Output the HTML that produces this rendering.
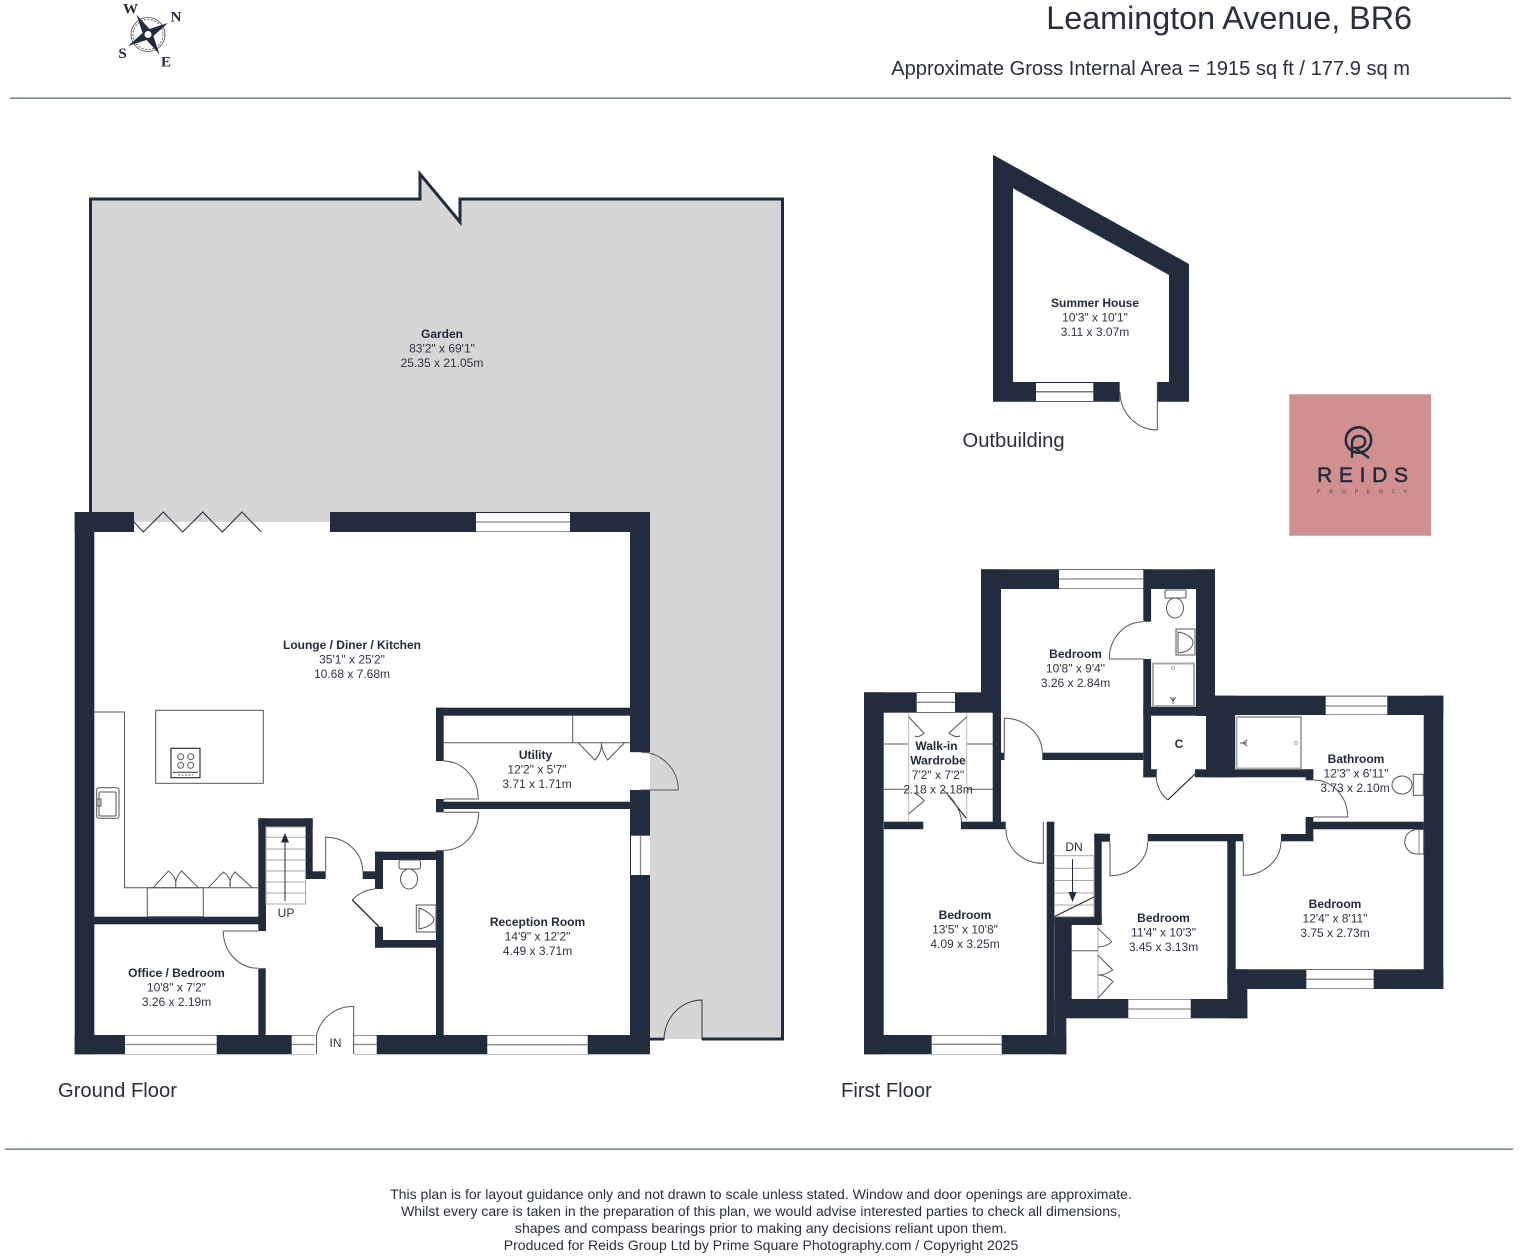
<!DOCTYPE html>
<html><head><meta charset="utf-8"><style>
html,body{margin:0;padding:0;background:#fff}
svg{display:block}
text{font-family:"Liberation Sans",Arial,sans-serif;fill:#2a2f3a}
.n{font-size:12px;font-weight:700;text-anchor:middle;fill:#232b3a}
.d{font-size:12px;text-anchor:middle;fill:#2f3440}
.w{fill:#232c3c}
.t{fill:none;stroke:#555;stroke-width:1}
.k{fill:none;stroke:#232c3c;stroke-width:1}
.g{fill:none;stroke:#aaa;stroke-width:1}
.win{fill:#fff}
.wl{stroke:#888;stroke-width:1.3}
.c{font-family:"Liberation Serif",serif;font-weight:700;font-size:15px;text-anchor:middle;fill:#232c3c}
</style></head><body>
<svg width="1520" height="1256" viewBox="0 0 1520 1256" xmlns="http://www.w3.org/2000/svg">
<rect width="1520" height="1256" fill="#fff"/>
<!-- header -->
<g transform="translate(148,34.500)">
<circle r="17" fill="none" stroke="#444" stroke-width="0.8"/>
<circle r="15" fill="none" stroke="#444" stroke-width="0.8" stroke-dasharray="2 1.5"/>
<g transform="rotate(-30)"><polygon class="w" points="0,-23 4,-4 23,0 4,4 0,23 -4,4 -23,0 -4,-4"/></g>
<circle r="3.500" fill="#fff"/>
</g>
<text class="c" x="130.500" y="13.500">W</text>
<text class="c" x="176" y="21.500">N</text>
<text class="c" x="122.500" y="58">S</text>
<text class="c" x="166" y="66.500">E</text>
<text x="1412" y="29" text-anchor="end" font-size="32.300" fill="#333">Leamington Avenue, BR6</text>
<text x="1410" y="75" text-anchor="end" font-size="20.100">Approximate Gross Internal Area = 1915 sq ft / 177.9 sq m</text>
<rect x="10" y="97.500" width="1501" height="1.300" fill="#5c6b70"/>
<rect x="5" y="1148.500" width="1508" height="1.300" fill="#5c6b70"/>

<!-- garden -->
<polygon points="91,200 420,200 420,174 460,222 460,200 782,200 782,1039 650,1039 650,522 91,522" fill="#d6d6d6"/>
<polyline points="90.500,513 90.500,199 420,199 420,174 460,222 460,199 782.500,199 782.500,1039 702,1039" fill="none" stroke="#232c3c" stroke-width="3"/>
<rect x="650" y="1037.700" width="14" height="2.800" class="w"/>

<!-- ground floor walls -->
<rect class="w" x="74.700" y="512" width="19.600" height="542.300"/>
<rect class="w" x="74.700" y="512" width="59.300" height="20"/>
<rect class="w" x="330" y="512" width="320" height="20"/>
<rect class="w" x="74.700" y="1035" width="575.300" height="19.300"/>
<rect class="w" x="630" y="512" width="20" height="240.300"/>
<rect class="w" x="630" y="790" width="20" height="264"/>
<rect class="w" x="94" y="916.700" width="172" height="7.600"/>
<rect class="w" x="258.300" y="818.300" width="7.700" height="112.700"/>
<rect class="w" x="258.300" y="818.300" width="54.400" height="8.400"/>
<rect class="w" x="305.300" y="818.300" width="7.400" height="60.700"/>
<rect class="w" x="305.300" y="871.300" width="20.400" height="7.700"/>
<rect class="w" x="258.300" y="968.300" width="7.400" height="67"/>
<rect class="w" x="362.700" y="871.300" width="20" height="7.700"/>
<rect class="w" x="375" y="851.700" width="68.300" height="8.300"/>
<rect class="w" x="375" y="851.700" width="8" height="37.300"/>
<rect class="w" x="375" y="926.700" width="8" height="21"/>
<rect class="w" x="375" y="940" width="62" height="7.700"/>
<rect class="w" x="436" y="850.300" width="7.700" height="185"/>
<rect class="w" x="436" y="707.700" width="194" height="8"/>
<rect class="w" x="436" y="707.700" width="7.700" height="53.300"/>
<rect class="w" x="436" y="799" width="7.700" height="13.300"/>
<rect class="w" x="436" y="801.700" width="194" height="7.300"/>
<!-- ground windows -->
<rect class="win" x="476" y="513" width="94" height="18.500"/><line class="wl" x1="476" y1="522" x2="570" y2="522"/>
<rect class="win" x="125" y="1035.500" width="91.700" height="18.500"/><line class="wl" x1="125" y1="1044.500" x2="216.700" y2="1044.500"/>
<rect class="win" x="487.300" y="1035.500" width="100.400" height="18.500"/><line class="wl" x1="487.300" y1="1044.700" x2="587.700" y2="1044.700"/>
<rect class="win" x="291.700" y="1035.500" width="23.300" height="18.500"/><line class="wl" x1="291.700" y1="1044.500" x2="315" y2="1044.500"/>
<rect class="win" x="353.700" y="1035.500" width="23" height="18.500"/><line class="wl" x1="353.700" y1="1044.500" x2="376.700" y2="1044.500"/>
<rect fill="#fff" x="315" y="1034" width="38.700" height="21"/>
<rect class="win" x="631" y="835.700" width="19" height="39.300"/><line class="wl" x1="640.500" y1="835.700" x2="640.500" y2="875"/>
<!-- side door opening -->
<rect fill="#fff" x="630" y="752.300" width="11" height="37.700"/>
<path d="M641 752.300A37.500 37.500 0 0 1 678.300 790H641" class="t"/>
<!-- garden door -->
<path d="M702 1040V1000A38 40 0 0 0 664 1040" class="t" style="stroke:#333"/>
<rect fill="#fff" x="651" y="1040.500" width="132" height="12"/>
<!-- folding door -->
<polyline class="k" points="134,522 143.300,532 163.300,512 182.700,532 202.700,512 222.300,532 242,512 261.300,532"/>
<!-- kitchen -->
<polyline class="t" points="94.300,712 124.500,712 124.500,887.700 258,887.700"/>
<rect class="t" x="155.700" y="710.300" width="107.600" height="73"/>
<rect x="171" y="748.300" width="29" height="29.400" fill="none" stroke="#333" stroke-width="1.200"/>
<circle cx="180.700" cy="756.700" r="3" class="t"/><circle cx="190.700" cy="756.700" r="3" class="t"/><circle cx="180.700" cy="765.300" r="3" class="t"/><circle cx="190.700" cy="765.300" r="3" class="t"/>
<line x1="173" y1="772.300" x2="198" y2="772.300" stroke="#333"/>
<line x1="178" y1="775" x2="193" y2="775" stroke="#555" stroke-dasharray="2 1.500"/>
<rect class="t" x="96.700" y="787.700" width="22.300" height="30.500" rx="2"/>
<rect class="t" x="99" y="792" width="17" height="24" rx="1"/>
<rect class="t" x="97" y="799" width="4" height="7"/>
<rect class="t" x="147.300" y="887.700" width="56" height="29"/>
<rect class="t" x="203.300" y="887.700" width="0" height="29"/>
<path class="t" d="M153.300 887.700L168.300 871Q177 877 175.700 887Q175 877 181.700 871L198.300 887.700"/>
<path class="t" d="M208.300 887.700L223.300 872Q232 878 230 887Q229 878 235 872L252.300 887.700"/>
<!-- ground stairs -->
<rect x="266" y="827" width="39.500" height="77" fill="#fff" stroke="#aaa"/>
<g class="g"><line x1="266" y1="837.300" x2="305" y2="837.300"/><line x1="266" y1="849" x2="305" y2="849"/><line x1="266" y1="860" x2="305" y2="860"/><line x1="266" y1="871" x2="305" y2="871"/><line x1="266" y1="882" x2="305" y2="882"/><line x1="266" y1="893" x2="305" y2="893"/></g>
<line x1="285" y1="840" x2="285" y2="901" stroke="#232c3c" stroke-width="1"/>
<polygon class="w" points="285,833 281,842.500 289,842.500"/>
<!-- ground doors -->
<path class="t" d="M325.700 871.300V837.300A37 34 0 0 1 362.700 871.300"/>
<path class="t" d="M375 889A35 35 0 0 0 352.300 900"/>
<line x1="352.300" y1="900" x2="379" y2="926.700" stroke="#222" stroke-width="1.300"/>
<path class="t" d="M258 968.300A35 37 0 0 1 223.300 931H258"/>
<path class="t" d="M353.700 1054V1006.500A37 37 0 0 0 316.500 1035V1054"/>
<path class="t" d="M443.700 761A35 38 0 0 1 478.300 799H443.700"/>
<path class="t" d="M443.700 812.300H478.700A35 38 0 0 1 443.700 850.300"/>
<!-- WC -->
<rect class="t" x="399" y="860" width="21.500" height="9" rx="2"/>
<ellipse class="t" cx="409" cy="879" rx="8.500" ry="10"/>
<rect class="t" x="416.300" y="905" width="19.700" height="27"/>
<path class="t" d="M419 908C430 912 434 918 434 919C434 922 430 927 419 929Z"/>
<!-- utility -->
<line class="t" x1="443.700" y1="742.700" x2="630" y2="742.700"/>
<line class="t" x1="572.700" y1="715.700" x2="572.700" y2="742.700"/>
<path class="t" d="M578.300 743L595 760Q602 752 601.500 743Q602 752 607.700 760L624.300 743"/>
<!-- ground text -->
<text class="n" x="442" y="338">Garden</text><text class="d" x="442" y="352.500">83'2" x 69'1"</text><text class="d" x="442" y="367">25.35 x 21.05m</text>
<text class="n" x="352" y="649">Lounge / Diner / Kitchen</text><text class="d" x="352" y="663.500">35'1" x 25'2"</text><text class="d" x="352" y="678">10.68 x 7.68m</text>
<text class="n" x="535.500" y="759">Utility</text><text class="d" x="537" y="773.500">12'2" x 5'7"</text><text class="d" x="537" y="788">3.71 x 1.71m</text>
<text class="n" x="537.500" y="926">Reception Room</text><text class="d" x="537.500" y="940.500">14'9" x 12'2"</text><text class="d" x="537.500" y="955">4.49 x 3.71m</text>
<text class="n" x="176.500" y="977">Office / Bedroom</text><text class="d" x="176.500" y="991.500">10'8" x 7'2"</text><text class="d" x="176.500" y="1006">3.26 x 2.19m</text>
<text x="286" y="917" font-size="12" text-anchor="middle">UP</text>
<text x="335.500" y="1047" font-size="12" text-anchor="middle">IN</text>

<!-- summer house -->
<path class="w" fill-rule="evenodd" d="M993 154.700L1189 264V401.700H993ZM1013 188.300V382H1169V275Z"/>
<rect class="win" x="1036" y="383" width="57.300" height="18"/><line x1="1036" y1="391.700" x2="1093.300" y2="391.700" stroke="#777" stroke-width="1.500"/>
<rect fill="#fff" x="1119.700" y="381" width="37.600" height="21.500"/>
<path class="t" d="M1157.300 382V430A37.500 38 0 0 1 1120 392"/>
<text class="n" x="1095" y="307">Summer House</text><text class="d" x="1095" y="321.500">10'3" x 10'1"</text><text class="d" x="1095" y="336">3.11 x 3.07m</text>
<text x="962.500" y="447" font-size="20.200">Outbuilding</text>
<!-- logo -->
<rect x="1289.300" y="394.300" width="141.700" height="141.400" fill="#d19090"/>
<circle cx="1358.500" cy="440" r="12.700" fill="none" stroke="#232c3c" stroke-width="2.600"/>
<path d="M1352 458V443Q1352 436 1360 436Q1366 437 1365 443Q1364 448 1355 448L1369 458" fill="none" stroke="#232c3c" stroke-width="2.400"/>
<text x="1317" y="482" font-size="21" textLength="91" lengthAdjust="spacing" style="fill:#232c3c;stroke:#232c3c;stroke-width:0.500">REIDS</text>
<text x="1317" y="493.500" font-size="5.500" textLength="90" lengthAdjust="spacing" style="fill:#5a3f4c">PROPERTY</text>

<!-- first floor walls -->
<rect class="w" x="981" y="569.300" width="234" height="19.700"/>
<rect class="w" x="981" y="569.300" width="20" height="143"/>
<rect class="w" x="992.700" y="692.300" width="8.300" height="136.700"/>
<rect class="w" x="864" y="692.300" width="137" height="20.400"/>
<rect class="w" x="864" y="692.300" width="19.700" height="362"/>
<rect class="w" x="864" y="1035" width="202.300" height="19.300"/>
<rect class="w" x="884" y="821.700" width="39.300" height="7.500"/>
<rect class="w" x="961" y="821.700" width="44.700" height="7.500"/>
<rect class="w" x="1046.700" y="821.700" width="7.600" height="213.300"/>
<rect class="w" x="1054.300" y="925" width="17.400" height="74"/>
<rect class="w" x="1054.300" y="999" width="193" height="19.300"/>
<rect class="w" x="1054.300" y="999" width="12" height="55.300"/>
<rect class="w" x="1054.300" y="916.700" width="47.400" height="8.300"/>
<rect class="w" x="1094.300" y="833.700" width="7.400" height="91.300"/>
<rect class="w" x="1094.300" y="833.700" width="15.700" height="8"/>
<rect class="w" x="1147.700" y="834" width="95.600" height="7.300"/>
<rect class="w" x="1281" y="834" width="32.300" height="7.300"/>
<rect class="w" x="1227.300" y="834" width="8.400" height="150"/>
<rect class="w" x="1227.300" y="969.300" width="20" height="49"/>
<rect class="w" x="1235" y="969.300" width="208.300" height="19.700"/>
<rect class="w" x="1423.700" y="695.700" width="19.600" height="293.300"/>
<rect class="w" x="1215" y="695.700" width="228.300" height="19.300"/>
<rect class="w" x="1196" y="569.300" width="19" height="146.700"/>
<rect class="w" x="1143.300" y="569.300" width="7.800" height="52.400"/>
<rect class="w" x="1143.300" y="659" width="7.800" height="118.300"/>
<rect class="w" x="1143.300" y="706.700" width="71.700" height="9"/>
<rect class="w" x="1206" y="695.700" width="29" height="81.600"/>
<rect class="w" x="1143.300" y="769.300" width="13.400" height="8"/>
<rect class="w" x="1195" y="769.300" width="118.300" height="8"/>
<rect class="w" x="1305.700" y="769.300" width="7.600" height="11"/>
<rect class="w" x="1305.700" y="817" width="7.600" height="24"/>
<rect class="w" x="1305.700" y="821.700" width="118" height="7.600"/>
<rect class="w" x="1042.300" y="752.700" width="101" height="7.300"/>
<rect class="w" x="1001" y="752.700" width="3.500" height="7.300"/>
<!-- first floor windows -->
<rect class="win" x="1059" y="570" width="84.300" height="18.500"/><line class="wl" x1="1059" y1="579" x2="1143.300" y2="579"/>
<rect class="win" x="916.700" y="693" width="38.300" height="19"/><line class="wl" x1="916.700" y1="702.300" x2="955" y2="702.300"/>
<rect class="win" x="1325.700" y="696.500" width="61.600" height="18"/><line class="wl" x1="1325.700" y1="706" x2="1387.300" y2="706"/>
<rect class="win" x="1306.300" y="970" width="67.400" height="18.500"/><line class="wl" x1="1306.300" y1="979.300" x2="1373.700" y2="979.300"/>
<rect class="win" x="1128.300" y="999.500" width="62.400" height="18.500"/><line class="wl" x1="1128.300" y1="1009" x2="1190.700" y2="1009"/>
<rect class="win" x="931.700" y="1035.500" width="70" height="18.500"/><line class="wl" x1="931.700" y1="1044.300" x2="1001.700" y2="1044.300"/>
<line x1="1054.500" y1="925" x2="1054.500" y2="999" stroke="#667" stroke-width="0.600"/>
<!-- ensuite -->
<rect class="t" x="1165" y="590" width="21" height="8" rx="1"/>
<ellipse class="t" cx="1175" cy="608" rx="8.500" ry="10"/>
<rect class="t" x="1176" y="629" width="19" height="26"/>
<path class="t" d="M1178 632C1190 634 1193 640 1193 642C1193 646 1190 652 1178 653Z"/>
<rect x="1153" y="663.500" width="41" height="42.500" fill="none" stroke="#aaa" stroke-width="2"/>
<path class="t" d="M1173 697L1173 704M1170 697L1173 701L1176 697"/>
<circle cx="1173" cy="668" r="1.500" class="g"/>
<!-- bathroom -->
<rect x="1236.500" y="717" width="64.500" height="51.500" fill="none" stroke="#aaa" stroke-width="2"/>
<path class="t" d="M1240 743H1247M1247 740L1243 743L1247 746"/>
<circle cx="1296" cy="743" r="1.500" class="g"/>
<rect class="t" x="1413.300" y="774.300" width="10" height="21"/>
<ellipse class="t" cx="1402" cy="785" rx="10" ry="9"/>
<path class="t" d="M1423.700 829.500H1417A11.500 11.500 0 0 0 1417 854H1423.700Z"/>
<line x1="1419" y1="829.500" x2="1419" y2="854" stroke="#888"/>
<!-- first floor doors -->
<path class="t" d="M1004.300 752.700V718.300A38 35 0 0 1 1042.300 752.700"/>
<path class="t" d="M1143 621.700A34 37 0 0 0 1109.300 659H1143.300"/>
<path class="t" d="M1156.700 769.300A32 32 0 0 0 1167.700 800"/>
<line x1="1167.700" y1="800" x2="1195" y2="774" stroke="#222" stroke-width="1.200"/>
<path class="t" d="M1313.300 780A34.400 37 0 0 1 1347.700 817H1313.300"/>
<path class="t" d="M1243.300 841.300V875.300A38 34 0 0 0 1281 841.300"/>
<path class="t" d="M1110 841.700V875.700A37.700 34 0 0 0 1147.700 841.700"/>
<path class="t" d="M1006 829A37 34 0 0 0 1043.300 863.300V821.700"/>
<!-- wardrobe -->
<line class="t" x1="884" y1="744" x2="908.700" y2="744"/>
<line class="t" x1="966.700" y1="744" x2="992.700" y2="744"/>
<line class="t" x1="884" y1="789.300" x2="908.700" y2="789.300"/>
<line class="t" x1="966.700" y1="789.300" x2="992.700" y2="789.300"/>
<line x1="908.700" y1="712.700" x2="908.700" y2="821" stroke="#bbb"/>
<line x1="966.700" y1="712.700" x2="966.700" y2="821" stroke="#bbb"/>
<path class="t" d="M908.700 717L924 733Q919 738 915 736"/>
<path class="t" d="M966.700 717L949 733Q955 738 960 736"/>
<path class="t" d="M908.500 814L924.300 800.700Q919 795 914 793"/>
<line x1="948" y1="795" x2="966" y2="818" stroke="#222" stroke-width="1.100"/>
<path class="t" d="M961.700 822Q960 804 942 789"/>
<!-- stairs first -->
<rect x="1054.500" y="855.700" width="39.500" height="61" fill="#fff" stroke="#aaa"/>
<g class="g"><line x1="1054.500" y1="868.300" x2="1094" y2="868.300"/><line x1="1054.500" y1="880.500" x2="1094" y2="880.500"/><line x1="1054.500" y1="893" x2="1094" y2="893"/><line x1="1054.500" y1="905" x2="1094" y2="905"/></g>
<line x1="1054.500" y1="916.500" x2="1094" y2="897" stroke="#222"/>
<line x1="1072.500" y1="859" x2="1072.500" y2="895" stroke="#232c3c"/>
<polygon class="w" points="1072.500,902 1068.500,892 1076.500,892"/>
<text x="1074" y="851" font-size="12" text-anchor="middle">DN</text>
<!-- bifold closet -->
<line class="t" x1="1071.700" y1="950.700" x2="1098" y2="950.700"/>
<line x1="1098" y1="925" x2="1098" y2="999" stroke="#aaa"/>
<path class="t" d="M1097.700 928L1111.700 941.700Q1106 947 1097.700 947"/>
<path class="t" d="M1097.700 955L1112.700 970Q1106 975 1098 975Q1106 975 1113 981.700L1098 998"/>
<!-- first text -->
<text class="n" x="1075.500" y="658">Bedroom</text><text class="d" x="1075.500" y="672.500">10'8" x 9'4"</text><text class="d" x="1075.500" y="687">3.26 x 2.84m</text>
<text class="n" x="1179" y="748">C</text>
<text class="n" x="936.500" y="750">Walk-in</text><text class="n" x="938" y="764.500">Wardrobe</text><text class="d" x="938" y="779">7'2" x 7'2"</text><text class="d" x="938" y="793.500">2.18 x 2.18m</text>
<text class="n" x="1356" y="763">Bathroom</text><text class="d" x="1356" y="777.500">12'3" x 6'11"</text><text class="d" x="1355" y="792">3.73 x 2.10m</text>
<text class="n" x="1335" y="908">Bedroom</text><text class="d" x="1335" y="922.500">12'4" x 8'11"</text><text class="d" x="1335" y="937">3.75 x 2.73m</text>
<text class="n" x="1163.500" y="922">Bedroom</text><text class="d" x="1163.500" y="936.500">11'4" x 10'3"</text><text class="d" x="1163.500" y="951">3.45 x 3.13m</text>
<text class="n" x="965" y="919">Bedroom</text><text class="d" x="965" y="933.500">13'5" x 10'8"</text><text class="d" x="965" y="948">4.09 x 3.25m</text>
<!-- labels -->
<text x="58" y="1097" font-size="20.200">Ground Floor</text>
<text x="841" y="1097" font-size="20.200">First Floor</text>
<g font-size="14.040" text-anchor="middle">
<text x="761" y="1199">This plan is for layout guidance only and not drawn to scale unless stated. Window and door openings are approximate.</text>
<text x="761" y="1216">Whilst every care is taken in the preparation of this plan, we would advise interested parties to check all dimensions,</text>
<text x="761" y="1233">shapes and compass bearings prior to making any decisions reliant upon them.</text>
<text x="761" y="1250">Produced for Reids Group Ltd by Prime Square Photography.com / Copyright 2025</text>
</g>
</svg>
</body></html>
